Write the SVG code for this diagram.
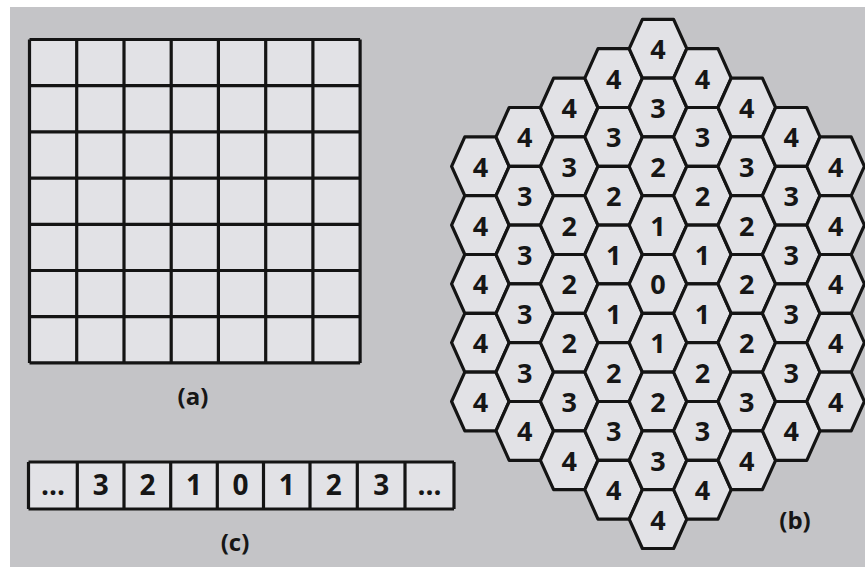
<svg xmlns="http://www.w3.org/2000/svg" xmlns:xlink="http://www.w3.org/1999/xlink" width="865" height="567" viewBox="0 0 865 567">
<style>
.cell{fill:#e2e2e6;stroke:#141414;stroke-width:3.2;stroke-linejoin:round}
.ln{fill:none;stroke:#141414;stroke-width:3.2}
.d{font-family:"Open Sans","Liberation Sans",sans-serif;font-weight:700;font-size:27px;fill:#161616;text-anchor:middle}
.c{font-family:"Open Sans","Liberation Sans",sans-serif;font-weight:700;font-size:28px;fill:#161616;text-anchor:middle}
.lab{font-family:"Open Sans","Liberation Sans",sans-serif;font-weight:700;font-size:24px;fill:#161616;text-anchor:middle}
</style>
<defs>
<polygon id="hex" class="cell" points="-28.8,0 -15.6,-29.4 15.6,-29.4 28.8,0 15.6,29.4 -15.6,29.4"/>
</defs>
<rect x="0" y="0" width="865" height="567" fill="#ffffff"/>
<rect x="10" y="7" width="855" height="560" fill="#c4c4c7"/>

<!-- (a) square grid -->
<g id="gridA">
<rect x="29.5" y="39.5" width="330.6" height="323.4" fill="#e2e2e6"/>
<path class="ln" d="M29.5,39.5V362.9M76.7,39.5V362.9M124,39.5V362.9M171.2,39.5V362.9M218.4,39.5V362.9M265.7,39.5V362.9M312.9,39.5V362.9M360.1,39.5V362.9M29.5,39.5H360.1M29.5,85.7H360.1M29.5,131.9H360.1M29.5,178.1H360.1M29.5,224.3H360.1M29.5,270.5H360.1M29.5,316.7H360.1M29.5,362.9H360.1"/>
</g>
<text class="lab" x="193" y="405">(a)</text>

<!-- (c) linear cells -->
<g id="rowC">
<rect x="28.5" y="462" width="425.5" height="47" fill="#e2e2e6"/>
<path class="ln" d="M28.5,462H454M28.5,509H454M28.5,462V509M77.3,462V509M124,462V509M170.7,462V509M217.3,462V509M263.5,462V509M310,462V509M357.3,462V509M405,462V509M454,462V509"/>
<text class="c" x="52.9" y="495">...</text>
<text class="c" x="100.7" y="495">3</text>
<text class="c" x="147.4" y="495">2</text>
<text class="c" x="194" y="495">1</text>
<text class="c" x="240.4" y="495">0</text>
<text class="c" x="286.8" y="495">1</text>
<text class="c" x="333.7" y="495">2</text>
<text class="c" x="381.2" y="495">3</text>
<text class="c" x="429.5" y="495">...</text>
</g>
<text class="lab" x="235" y="551">(c)</text>

<!-- (b) hex grid -->
<g id="hexB">
<g id="h-4a" transform="translate(480.4,166.3)"><use xlink:href="#hex" href="#hex"/><text class="d" y="10.5">4</text></g>
<g id="h-4b" transform="translate(480.4,225.1)"><use xlink:href="#hex" href="#hex"/><text class="d" y="10.5">4</text></g>
<g id="h-4c" transform="translate(480.4,283.9)"><use xlink:href="#hex" href="#hex"/><text class="d" y="10.5">4</text></g>
<g id="h-4d" transform="translate(480.4,342.7)"><use xlink:href="#hex" href="#hex"/><text class="d" y="10.5">4</text></g>
<g id="h-4e" transform="translate(480.4,401.5)"><use xlink:href="#hex" href="#hex"/><text class="d" y="10.5">4</text></g>

<g id="h-3a" transform="translate(524.8,136.9)"><use xlink:href="#hex" href="#hex"/><text class="d" y="10.5">4</text></g>
<g id="h-3b" transform="translate(524.8,195.7)"><use xlink:href="#hex" href="#hex"/><text class="d" y="10.5">3</text></g>
<g id="h-3c" transform="translate(524.8,254.5)"><use xlink:href="#hex" href="#hex"/><text class="d" y="10.5">3</text></g>
<g id="h-3d" transform="translate(524.8,313.3)"><use xlink:href="#hex" href="#hex"/><text class="d" y="10.5">3</text></g>
<g id="h-3e" transform="translate(524.8,372.1)"><use xlink:href="#hex" href="#hex"/><text class="d" y="10.5">3</text></g>
<g id="h-3f" transform="translate(524.8,430.9)"><use xlink:href="#hex" href="#hex"/><text class="d" y="10.5">4</text></g>

<g id="h-2a" transform="translate(569.2,107.5)"><use xlink:href="#hex" href="#hex"/><text class="d" y="10.5">4</text></g>
<g id="h-2b" transform="translate(569.2,166.3)"><use xlink:href="#hex" href="#hex"/><text class="d" y="10.5">3</text></g>
<g id="h-2c" transform="translate(569.2,225.1)"><use xlink:href="#hex" href="#hex"/><text class="d" y="10.5">2</text></g>
<g id="h-2d" transform="translate(569.2,283.9)"><use xlink:href="#hex" href="#hex"/><text class="d" y="10.5">2</text></g>
<g id="h-2e" transform="translate(569.2,342.7)"><use xlink:href="#hex" href="#hex"/><text class="d" y="10.5">2</text></g>
<g id="h-2f" transform="translate(569.2,401.5)"><use xlink:href="#hex" href="#hex"/><text class="d" y="10.5">3</text></g>
<g id="h-2g" transform="translate(569.2,460.3)"><use xlink:href="#hex" href="#hex"/><text class="d" y="10.5">4</text></g>

<g id="h-1a" transform="translate(613.6,78.1)"><use xlink:href="#hex" href="#hex"/><text class="d" y="10.5">4</text></g>
<g id="h-1b" transform="translate(613.6,136.9)"><use xlink:href="#hex" href="#hex"/><text class="d" y="10.5">3</text></g>
<g id="h-1c" transform="translate(613.6,195.7)"><use xlink:href="#hex" href="#hex"/><text class="d" y="10.5">2</text></g>
<g id="h-1d" transform="translate(613.6,254.5)"><use xlink:href="#hex" href="#hex"/><text class="d" y="10.5">1</text></g>
<g id="h-1e" transform="translate(613.6,313.3)"><use xlink:href="#hex" href="#hex"/><text class="d" y="10.5">1</text></g>
<g id="h-1f" transform="translate(613.6,372.1)"><use xlink:href="#hex" href="#hex"/><text class="d" y="10.5">2</text></g>
<g id="h-1g" transform="translate(613.6,430.9)"><use xlink:href="#hex" href="#hex"/><text class="d" y="10.5">3</text></g>
<g id="h-1h" transform="translate(613.6,489.7)"><use xlink:href="#hex" href="#hex"/><text class="d" y="10.5">4</text></g>

<g id="h0a" transform="translate(658,48.7)"><use xlink:href="#hex" href="#hex"/><text class="d" y="10.5">4</text></g>
<g id="h0b" transform="translate(658,107.5)"><use xlink:href="#hex" href="#hex"/><text class="d" y="10.5">3</text></g>
<g id="h0c" transform="translate(658,166.3)"><use xlink:href="#hex" href="#hex"/><text class="d" y="10.5">2</text></g>
<g id="h0d" transform="translate(658,225.1)"><use xlink:href="#hex" href="#hex"/><text class="d" y="10.5">1</text></g>
<g id="h0e" transform="translate(658,283.9)"><use xlink:href="#hex" href="#hex"/><text class="d" y="10.5">0</text></g>
<g id="h0f" transform="translate(658,342.7)"><use xlink:href="#hex" href="#hex"/><text class="d" y="10.5">1</text></g>
<g id="h0g" transform="translate(658,401.5)"><use xlink:href="#hex" href="#hex"/><text class="d" y="10.5">2</text></g>
<g id="h0h" transform="translate(658,460.3)"><use xlink:href="#hex" href="#hex"/><text class="d" y="10.5">3</text></g>
<g id="h0i" transform="translate(658,519.1)"><use xlink:href="#hex" href="#hex"/><text class="d" y="10.5">4</text></g>

<g id="h1a" transform="translate(702.4,78.1)"><use xlink:href="#hex" href="#hex"/><text class="d" y="10.5">4</text></g>
<g id="h1b" transform="translate(702.4,136.9)"><use xlink:href="#hex" href="#hex"/><text class="d" y="10.5">3</text></g>
<g id="h1c" transform="translate(702.4,195.7)"><use xlink:href="#hex" href="#hex"/><text class="d" y="10.5">2</text></g>
<g id="h1d" transform="translate(702.4,254.5)"><use xlink:href="#hex" href="#hex"/><text class="d" y="10.5">1</text></g>
<g id="h1e" transform="translate(702.4,313.3)"><use xlink:href="#hex" href="#hex"/><text class="d" y="10.5">1</text></g>
<g id="h1f" transform="translate(702.4,372.1)"><use xlink:href="#hex" href="#hex"/><text class="d" y="10.5">2</text></g>
<g id="h1g" transform="translate(702.4,430.9)"><use xlink:href="#hex" href="#hex"/><text class="d" y="10.5">3</text></g>
<g id="h1h" transform="translate(702.4,489.7)"><use xlink:href="#hex" href="#hex"/><text class="d" y="10.5">4</text></g>

<g id="h2a" transform="translate(746.8,107.5)"><use xlink:href="#hex" href="#hex"/><text class="d" y="10.5">4</text></g>
<g id="h2b" transform="translate(746.8,166.3)"><use xlink:href="#hex" href="#hex"/><text class="d" y="10.5">3</text></g>
<g id="h2c" transform="translate(746.8,225.1)"><use xlink:href="#hex" href="#hex"/><text class="d" y="10.5">2</text></g>
<g id="h2d" transform="translate(746.8,283.9)"><use xlink:href="#hex" href="#hex"/><text class="d" y="10.5">2</text></g>
<g id="h2e" transform="translate(746.8,342.7)"><use xlink:href="#hex" href="#hex"/><text class="d" y="10.5">2</text></g>
<g id="h2f" transform="translate(746.8,401.5)"><use xlink:href="#hex" href="#hex"/><text class="d" y="10.5">3</text></g>
<g id="h2g" transform="translate(746.8,460.3)"><use xlink:href="#hex" href="#hex"/><text class="d" y="10.5">4</text></g>

<g id="h3a" transform="translate(791.2,136.9)"><use xlink:href="#hex" href="#hex"/><text class="d" y="10.5">4</text></g>
<g id="h3b" transform="translate(791.2,195.7)"><use xlink:href="#hex" href="#hex"/><text class="d" y="10.5">3</text></g>
<g id="h3c" transform="translate(791.2,254.5)"><use xlink:href="#hex" href="#hex"/><text class="d" y="10.5">3</text></g>
<g id="h3d" transform="translate(791.2,313.3)"><use xlink:href="#hex" href="#hex"/><text class="d" y="10.5">3</text></g>
<g id="h3e" transform="translate(791.2,372.1)"><use xlink:href="#hex" href="#hex"/><text class="d" y="10.5">3</text></g>
<g id="h3f" transform="translate(791.2,430.9)"><use xlink:href="#hex" href="#hex"/><text class="d" y="10.5">4</text></g>

<g id="h4a" transform="translate(835.6,166.3)"><use xlink:href="#hex" href="#hex"/><text class="d" y="10.5">4</text></g>
<g id="h4b" transform="translate(835.6,225.1)"><use xlink:href="#hex" href="#hex"/><text class="d" y="10.5">4</text></g>
<g id="h4c" transform="translate(835.6,283.9)"><use xlink:href="#hex" href="#hex"/><text class="d" y="10.5">4</text></g>
<g id="h4d" transform="translate(835.6,342.7)"><use xlink:href="#hex" href="#hex"/><text class="d" y="10.5">4</text></g>
<g id="h4e" transform="translate(835.6,401.5)"><use xlink:href="#hex" href="#hex"/><text class="d" y="10.5">4</text></g>
</g>
<text class="lab" x="795" y="529">(b)</text>
<g id="connectors"/>
</svg>
